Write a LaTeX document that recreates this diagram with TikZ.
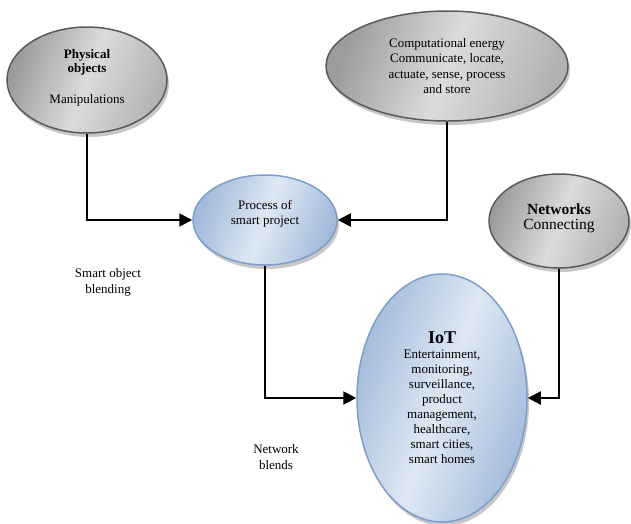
\documentclass[tikz,border=0pt]{standalone}
\usepackage{fontspec}
\setmainfont{Liberation Serif}
\usetikzlibrary{shapes.geometric, arrows.meta, positioning, shadows}
\definecolor{grayline}{HTML}{5A5A5A}
\definecolor{blueline}{HTML}{7E9DC9}
\definecolor{bluedark}{HTML}{A3BADB}
\definecolor{bluelight}{HTML}{DEE8F3}
\tikzset{
    grayblob/.style={ellipse, draw=grayline, line width=1.5pt, left color=gray!78, right color=gray!60, middle color=gray!28, shading angle=70, align=center, inner sep=0pt, font=\fontsize{13}{15}\selectfont, drop shadow={shadow xshift=2pt, shadow yshift=-4pt, fill=gray!55, opacity=0.8}},
    blueblob/.style={ellipse, draw=blueline, line width=1.5pt, left color=bluedark, right color=bluedark, middle color=bluelight, shading angle=70, align=center, inner sep=0pt, font=\fontsize{13}{15}\selectfont, drop shadow={shadow xshift=2pt, shadow yshift=-4pt, fill=gray!55, opacity=0.8}},
    note/.style={align=center, font=\fontsize{13}{16}\selectfont},
    arrow/.style={line width=2pt, -{Triangle[length=13pt, width=13pt]}}
}
\begin{document}
\begin{tikzpicture}[x=1pt, y=-1pt]
        \useasboundingbox (0,0) rectangle (631,523);

        % Top row
        \node (phys) [grayblob, minimum width=160, minimum height=106, font=\fontsize{13}{14}\selectfont] at (87,80) {\textbf{Physical}\\ \textbf{objects}\\[17pt] Manipulations\\[-6pt]\mbox{}};
        \node (comp) [grayblob, minimum width=242, minimum height=110, font=\fontsize{13}{15.5}\selectfont] at (447,66) {Computational energy\\ Communicate, locate,\\ actuate, sense, process\\ and store};

        % Middle row
        \node (proc) [blueblob, minimum width=144, minimum height=90] at (265,220) {Process of\\ smart project\\ \mbox{}};
        \node (net) [grayblob, minimum width=140, minimum height=94, font=\fontsize{15.5}{15.5}\selectfont] at (559,221) {\textbf{Networks}\\ Connecting\\[-7pt]\mbox{}};

        % Bottom
        \node (iot) [blueblob, minimum width=170, minimum height=248] at (442,398) {\textbf{\fontsize{18}{20}\selectfont IoT}\\ Entertainment,\\ monitoring,\\ surveillance,\\ product\\ management,\\ healthcare,\\ smart cities,\\ smart homes};

        \node (blend) [note] at (108,282) {Smart object\\ blending};
        \node (nblend) [note] at (276,457) {Network\\ blends};

        \draw [arrow] (phys.south) |- (proc.west);
        \draw [arrow] (comp.south) |- (proc.east);
        \draw [arrow] (proc.south) |- (iot.west);
        \draw [arrow] (net.south) |- (iot.east);
    \end{tikzpicture}
\end{document}
